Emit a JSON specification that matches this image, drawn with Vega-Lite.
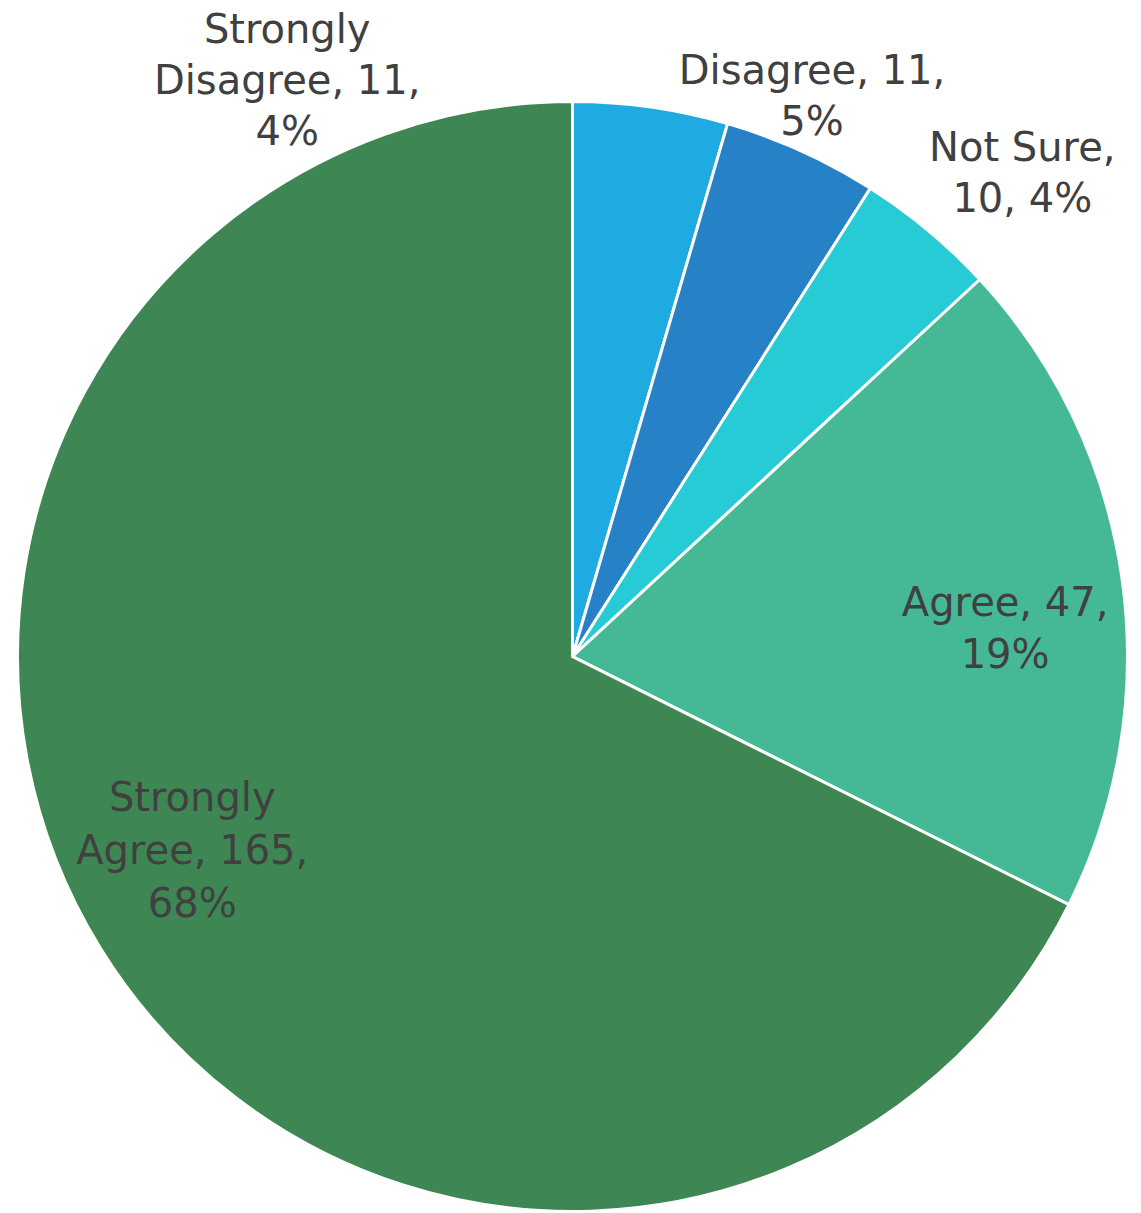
{
  "$schema": "https://vega.github.io/schema/vega-lite/v6.json",
  "width": 1137,
  "height": 1113,
  "autosize": {"type": "none"},
  "padding": {"left": 4, "top": 100, "right": 0, "bottom": 0},
  "background": "white",
  "view": {"stroke": null},
  "data": {
    "values": [
      {"answer": "Strongly Disagree", "count": 11, "rank": 1, "label": "Strongly\nDisagree, 11,\n4%"},
      {"answer": "Disagree", "count": 11, "rank": 2, "label": "Disagree, 11,\n5%"},
      {"answer": "Not Sure", "count": 10, "rank": 3, "label": "Not Sure,\n10, 4%"},
      {"answer": "Agree", "count": 47, "rank": 4, "label": "Agree, 47,\n19%"},
      {"answer": "Strongly Agree", "count": 165, "rank": 5, "label": "Strongly\nAgree, 165,\n68%"}
    ]
  },
  "encoding": {
    "theta": {"field": "count", "type": "quantitative", "stack": true},
    "order": {"field": "rank", "type": "quantitative"}
  },
  "layer": [
    {
      "mark": {"type": "arc", "outerRadius": 555, "stroke": "white", "strokeWidth": 3},
      "encoding": {
        "color": {
          "field": "answer",
          "type": "nominal",
          "scale": {
            "domain": ["Strongly Disagree", "Disagree", "Not Sure", "Agree", "Strongly Agree"],
            "range": ["#1FAAE1", "#2781C6", "#27CBD6", "#45B996", "#3E8754"]
          },
          "legend": null
        }
      }
    },
    {
      "mark": {"type": "text", "radius": 600, "dx": -370, "dy": -32, "fontSize": 40, "font": "DejaVu Sans", "color": "#404040", "lineBreak": "\n", "lineHeight": 51, "align": "center", "baseline": "middle"},
      "encoding": {"text": {"condition": {"test": "datum.answer === 'Strongly Disagree'", "field": "label"}, "value": ""}}
    },
    {
      "mark": {"type": "text", "radius": 615, "dx": -14, "dy": -24, "fontSize": 40, "font": "DejaVu Sans", "color": "#404040", "lineBreak": "\n", "lineHeight": 51, "align": "center", "baseline": "middle"},
      "encoding": {"text": {"condition": {"test": "datum.answer === 'Disagree'", "field": "label"}, "value": ""}}
    },
    {
      "mark": {"type": "text", "radius": 660, "dx": 27, "dy": -1, "fontSize": 40, "font": "DejaVu Sans", "color": "#404040", "lineBreak": "\n", "lineHeight": 51, "align": "center", "baseline": "middle"},
      "encoding": {"text": {"condition": {"test": "datum.answer === 'Not Sure'", "field": "label"}, "value": ""}}
    },
    {
      "mark": {"type": "text", "radius": 437, "dx": 0, "dy": 9, "fontSize": 40, "font": "DejaVu Sans", "color": "#404040", "lineBreak": "\n", "lineHeight": 52, "align": "center", "baseline": "middle"},
      "encoding": {"text": {"condition": {"test": "datum.answer === 'Agree'", "field": "label"}, "value": ""}}
    },
    {
      "mark": {"type": "text", "radius": 440, "dx": -6, "dy": -89, "fontSize": 40, "font": "DejaVu Sans", "color": "#404040", "lineBreak": "\n", "lineHeight": 53, "align": "center", "baseline": "middle"},
      "encoding": {"text": {"condition": {"test": "datum.answer === 'Strongly Agree'", "field": "label"}, "value": ""}}
    }
  ]
}
